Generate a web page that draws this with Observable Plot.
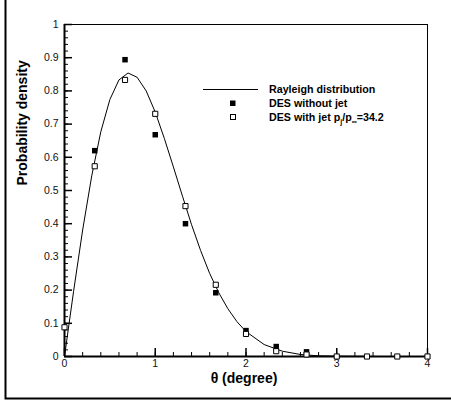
<!DOCTYPE html>
<html><head><meta charset="utf-8">
<script src="https://cdn.jsdelivr.net/npm/d3@7"></script>
<script src="https://cdn.jsdelivr.net/npm/@observablehq/plot@0.6"></script>
<style>
body{margin:0;background:#fff;font-family:"Liberation Sans",Arial,sans-serif}
#chart svg{display:block}
</style>
</head><body><div id="chart"></div>
<script>
// Rayleigh distribution curve
const rayleighTheta = [0,0.1,0.2,0.3,0.4,0.5,0.6,0.7,0.8,0.9,1.0,1.1,1.2,1.3,1.4,1.5,1.6,1.7,1.8,1.9,2.0,2.2,2.4,2.6,2.8,3.0,3.5,4.0];
const rayleighDensity = [0,0.196,0.381,0.544,0.677,0.774,0.833,0.854,0.841,0.800,0.736,0.657,0.571,0.483,0.397,0.319,0.250,0.192,0.144,0.105,0.075,0.036,0.016,0.006,0.002,0.001,0,0];
// DES without jet (filled squares)
const thetaNoJet = [0.333,0.667,1.0,1.333,1.667,2.0,2.333,2.667];
const densityNoJet = [0.620,0.894,0.668,0.400,0.192,0.078,0.030,0.014];
// DES with jet (open squares)
const thetaJet = [0,0.333,0.667,1.0,1.333,1.667,2.0,2.333,2.667,3.0,3.333,3.667,4.0];
const densityJet = [0.088,0.573,0.833,0.731,0.453,0.216,0.068,0.016,0.006,0,0,0,0];
// axes
const xTicks = [0,1,2,3,4];
const xTickLabels = ["0","1","2","3","4"];
const xMinorTicks = d3.range(0, 4.0001, 0.2);
const yTicks = [0,0.1,0.2,0.3,0.4,0.5,0.6,0.7,0.8,0.9,1];
const yTickLabels = ["0","0.1","0.2","0.3","0.4","0.5","0.6","0.7","0.8","0.9","1"];
const yMinorTicks = d3.range(0, 1.0001, 0.02);
const xTitle = "θ (degree)";
const yTitle = "Probability density";
const seriesNames = ["Rayleigh distribution", "DES without jet", "DES with jet"];

const curve = rayleighTheta.map((t,i)=>({t, p: rayleighDensity[i]}));
const noJet = thetaNoJet.map((t,i)=>({t, p: densityNoJet[i]}));
const jet = thetaJet.map((t,i)=>({t, p: densityJet[i]}));

const W = 451, H = 402, mL = 64, mR = 24, mT = 24, mB = 46;
const fw = W - mL - mR, fh = H - mT - mB;

const plot = Plot.plot({
  width: W, height: H,
  marginLeft: mL, marginRight: mR, marginTop: mT, marginBottom: mB,
  style: {background: "#fff", fontFamily: "'Liberation Sans', Arial, sans-serif", color: "#000", overflow: "visible"},
  x: {domain: [0,4]},
  y: {domain: [0,1]},
  marks: [
    Plot.frame({stroke: "#000", strokeWidth: 1}),
    Plot.tickX(xMinorTicks, {x: d=>d, insetTop: fh - 4, stroke: "#000", strokeWidth: 1}),
    Plot.tickX(xTicks, {x: d=>d, insetTop: fh - 8, stroke: "#000", strokeWidth: 1.5}),
    Plot.tickY(yMinorTicks, {y: d=>d, insetRight: fw - 4, stroke: "#000", strokeWidth: 1}),
    Plot.tickY(yTicks, {y: d=>d, insetRight: fw - 8, stroke: "#000", strokeWidth: 1.5}),
    Plot.ruleX([0], {stroke: "#000", strokeWidth: 2}),
    Plot.ruleY([0], {stroke: "#000", strokeWidth: 2}),
    Plot.axisX({ticks: xTicks, tickFormat: (d,i)=>xTickLabels[xTicks.indexOf(d)], tickSize: 0, tickPadding: 3, fontSize: 10.5, fill: "#111", label: null}),
    Plot.axisY({ticks: yTicks, tickFormat: (d,i)=>yTickLabels[yTicks.indexOf(d)], tickSize: 0, tickPadding: 6, fontSize: 10.5, fill: "#111", label: null}),
    Plot.text([xTitle], {frameAnchor: "bottom", text: d=>d, dy: 22, dx: -2, lineAnchor: "middle", fontSize: 14, fontWeight: "bold"}),
    Plot.text([yTitle], {frameAnchor: "left", text: d=>d, dx: -42, dy: -5, rotate: -90, fontSize: 14, fontWeight: "bold"}),
    Plot.line(curve, {x: "t", y: "p", stroke: "#000", strokeWidth: 1}),
    Plot.dot(noJet, {x: "t", y: "p", symbol: "square", r: 3.1, fill: "#000", stroke: "none"}),
    Plot.dot(jet, {x: "t", y: "p", symbol: "square", r: 2.9, fill: "#fff", stroke: "#000", strokeWidth: 1})
  ]
});
document.getElementById("chart").appendChild(plot);

// outer border (left and bottom visible)
const svg = d3.select(plot);
svg.append("path").attr("d", `M5.5,0V398.5H${W}`).attr("fill","none").attr("stroke","#000").attr("stroke-width",2);

// legend
const lg = svg.append("g").attr("font-size", 10.7).attr("font-weight","bold").attr("fill","#000").attr("text-anchor","start");
lg.append("line").attr("x1",203).attr("x2",258).attr("y1",89.5).attr("y2",89.5).attr("stroke","#000");
lg.append("rect").attr("x",230).attr("y",100.5).attr("width",5.5).attr("height",5.5).attr("fill","#000");
lg.append("rect").attr("x",230.5).attr("y",114.5).attr("width",5).attr("height",5).attr("fill","#fff").attr("stroke","#000");
lg.append("text").attr("x",269).attr("y",93).text(seriesNames[0]);
lg.append("text").attr("x",269).attr("y",107).text(seriesNames[1]);
const t3 = lg.append("text").attr("x",269).attr("y",121);
t3.append("tspan").text(seriesNames[2] + " p");
t3.append("tspan").attr("font-size",7).attr("dy",3).text("j");
t3.append("tspan").attr("dy",-3).text("/p");
t3.append("tspan").attr("font-size",7).attr("dy",3).text("∞");
t3.append("tspan").attr("dy",-3).text("=34.2");
</script>
</body></html>
